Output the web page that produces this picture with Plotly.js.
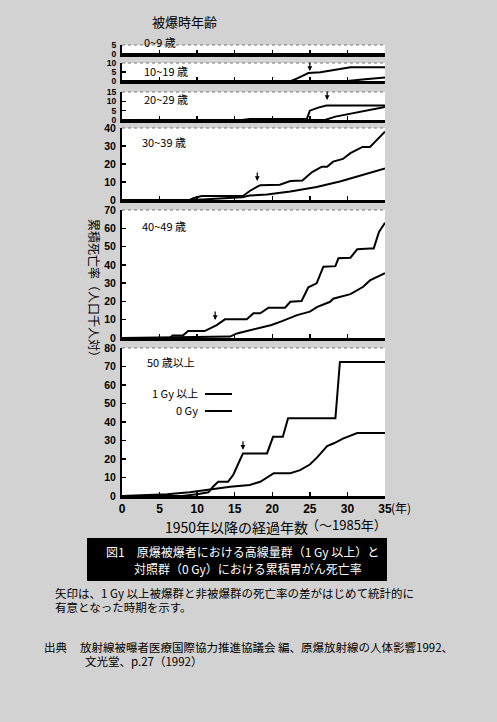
<!DOCTYPE html>
<html>
<head>
<meta charset="utf-8">
<script src="https://cdn.plot.ly/plotly-3.0.1.min.js"></script>
<style>
html,body{margin:0;padding:0;background:#d2d2d2;}
#chart{width:497px;height:722px;}
</style>
</head>
<body>
<div id="chart"></div>
<script>
// ---------------- DATA ----------------
const panelLabels = ["0~9 歳", "10~19 歳", "20~29 歳", "30~39 歳", "40~49 歳", "50 歳以上"];
const panelMax = [5, 10, 15, 40, 70, 80];
const panelTick = [5, 5, 5, 10, 10, 10];
const xTicks = [0, 5, 10, 15, 20, 25, 30, 35];

// 1 Gy 以上 (high dose)
const p1_high_x = [0, 35];
const p1_high_y = [0, 0];
const p2_high_x = [0, 22.5, 23.4, 24.8, 26.4, 28.1, 29, 30.4, 35];
const p2_high_y = [0, 0, 1.6, 4.4, 4.9, 6, 7, 7.6, 7.6];
const p3_high_x = [0, 16, 17, 24.6, 25, 26, 27.2, 35];
const p3_high_y = [0, 0, 0.6, 0.6, 5, 6.5, 7.8, 7.8];
const p4_high_x = [0, 9, 9.5, 10.6, 16.1, 17, 18, 18.4, 21, 22.4, 24, 25.3, 26.6, 27.3, 28.1, 29.4, 30.4, 31.3, 32, 33, 33.6, 34.3, 35];
const p4_high_y = [0, 0, 1, 2.2, 2.2, 5, 7.4, 8.2, 8.5, 10.5, 10.8, 15.5, 18.5, 18.5, 21.3, 22.8, 26, 27.8, 29.5, 29.5, 32, 35, 38];
const p5_high_x = [0, 6.4, 6.7, 8.1, 8.8, 11, 12.6, 13.7, 16.6, 17.5, 18.4, 19.5, 21.7, 22.4, 23.9, 24.8, 25.9, 26.8, 28.4, 28.8, 30.4, 31.3, 33, 33.5, 34.2, 35];
const p5_high_y = [0, 0, 1.3, 1.3, 3.8, 3.8, 7.1, 10.2, 10.2, 13.5, 13.5, 16.6, 16.6, 19.8, 20.2, 27.7, 29.9, 39, 39.3, 43.6, 43.9, 48.5, 49, 49, 58, 63];
const p6_high_x = [0, 8, 10, 11.5, 12.1, 12.8, 14.1, 14.8, 15.5, 16.1, 19.3, 20.1, 21.4, 22.1, 28.4, 29, 35];
const p6_high_y = [0, 0, 1, 2, 5, 7.7, 7.7, 11.4, 17.7, 23, 23, 32, 32, 42, 42, 72.5, 72.5];

// 0 Gy (control)
const p1_low_x = [0, 35];
const p1_low_y = [0, 0];
const p2_low_x = [0, 30, 32, 35];
const p2_low_y = [0, 0, 0.8, 2];
const p3_low_x = [0, 27, 28.4, 30.5, 33, 35];
const p3_low_y = [0, 0, 1.8, 3.5, 5.3, 7];
const p4_low_x = [0, 9.5, 13, 16, 17, 19.3, 22.4, 25.9, 29, 31.3, 33, 35];
const p4_low_y = [0, 0, 0.8, 1.5, 2.5, 3, 4.7, 7.2, 10.3, 13, 15.1, 17.5];
const p5_low_x = [0, 10, 14.4, 15.3, 17.9, 19.9, 21.3, 23.3, 25, 26, 27.7, 28.1, 30.4, 32.1, 33, 35];
const p5_low_y = [0, 0.3, 0.8, 2.5, 5, 7.1, 9.2, 12.5, 14.4, 17, 19.8, 21.5, 24, 28, 31.5, 35.5];
const p6_low_x = [0, 3, 6, 9, 11.7, 14.4, 17, 18.4, 20.2, 22.4, 23.7, 25, 26, 27.3, 28.2, 29.4, 31.3, 35];
const p6_low_y = [0, 0.3, 1, 2, 3.5, 5, 6, 7.7, 12.3, 12.3, 14, 17, 21, 27, 28.5, 31, 34, 34];

// arrows: time when the difference first became significant (panels 2-6)
const arrowPanel = [1, 2, 3, 4, 5];
const arrowYear = [25, 27.3, 18, 12.4, 16.1];
const arrowVal = [5.5, 10.7, 10.5, 9.8, 25];

const highX = [p1_high_x, p2_high_x, p3_high_x, p4_high_x, p5_high_x, p6_high_x];
const highY = [p1_high_y, p2_high_y, p3_high_y, p4_high_y, p5_high_y, p6_high_y];
const lowX = [p1_low_x, p2_low_x, p3_low_x, p4_low_x, p5_low_x, p6_low_x];
const lowY = [p1_low_y, p2_low_y, p3_low_y, p4_low_y, p5_low_y, p6_low_y];

// ---------------- LAYOUT ----------------
const W = 497, H = 722, ML = 122, MR = 112, MT = 45, MB = 226;
const plotW = W - ML - MR, plotH = H - MT - MB;
const bottomPx = H - MB;
const panelPx = [[45, 54], [63, 81], [92, 120], [128, 200], [210, 338], [348, 496]];
const px2x = p => (p - ML) / plotW;
const py2y = p => (bottomPx - p) / plotH;

const JP = "Noto Sans CJK JP";
const traces = [];
const layout = {
  width: W, height: H,
  margin: {l: ML, r: MR, t: MT, b: MB},
  paper_bgcolor: "#d2d2d2",
  plot_bgcolor: "#ffffff",
  showlegend: false,
  font: {family: JP, color: "#000"},
  shapes: [], annotations: []
};

for (let k = 0; k < 6; k++) {
  const s = k === 0 ? "" : String(k + 1);
  const xa = "x" + s, ya = "y" + s;
  traces.push({x: lowX[k], y: lowY[k], xaxis: xa, yaxis: ya, mode: "lines",
    line: {color: "#000", width: 2}, name: "0 Gy", hoverinfo: "skip"});
  traces.push({x: highX[k], y: highY[k], xaxis: xa, yaxis: ya, mode: "lines",
    line: {color: "#000", width: 2}, name: "1 Gy 以上", hoverinfo: "skip"});
  const isBottom = k === 5;
  layout["xaxis" + s] = {
    anchor: ya, range: [0, 35], tickvals: xTicks, showline: true, linewidth: 2.5,
    linecolor: "#000", ticks: "inside", ticklen: 4, tickwidth: 1.3, tickcolor: "#000",
    showgrid: false, zeroline: false, showticklabels: isBottom,
    tickfont: {family: "Liberation Sans", size: 12, weight: "bold"},
    ...(isBottom ? {} : {matches: "x6"})
  };
  const [top, bot] = panelPx[k];
  layout["yaxis" + s] = {
    anchor: xa, domain: [py2y(bot), py2y(top)], range: [0, panelMax[k]],
    dtick: panelTick[k], showline: true, linewidth: 2, linecolor: "#000",
    ticks: "inside", ticklen: 4, tickwidth: 1.3, tickcolor: "#000",
    showgrid: false, zeroline: false, ticklabelstandoff: 2,
    tickfont: {family: "Liberation Sans", size: k < 3 ? 8.5 : 10.5, weight: "bold"}
  };
  // thin top frame line
  layout.shapes.push({type: "line", xref: "paper", x0: 0, x1: 1,
    yref: ya + " domain", y0: 1, y1: 1, line: {color: "#777", width: 1, dash: "dot"}});
}

// panel labels
const labelPos = [[142, 42], [142, 71], [142, 99], [140, 142], [140, 226], [145, 362]];
panelLabels.forEach((t, k) => {
  layout.annotations.push({xref: "paper", yref: "paper", x: px2x(labelPos[k][0]), y: py2y(labelPos[k][1]),
    xanchor: "left", yanchor: "middle", showarrow: false, text: t,
    font: {family: JP, size: 11, color: "#000"}});
});

// arrows
arrowPanel.forEach((k, i) => {
  const s = k === 0 ? "" : String(k + 1);
  layout.annotations.push({xref: "x" + s, yref: "y" + s, x: arrowYear[i], y: arrowVal[i],
    text: "", showarrow: true, ax: 0, ay: -10, arrowhead: 2, arrowsize: 0.8,
    arrowwidth: 1.2, arrowcolor: "#000"});
});

// legend inside bottom panel
const legendRows = [["1 Gy 以上", 393], ["0 Gy", 410]];
legendRows.forEach(([t, py]) => {
  layout.annotations.push({xref: "paper", yref: "paper", x: px2x(200), y: py2y(py),
    xanchor: "right", yanchor: "middle", showarrow: false, text: t,
    font: {family: JP, size: 11, color: "#000"}});
  layout.shapes.push({type: "line", xref: "paper", yref: "paper",
    x0: px2x(205), x1: px2x(232), y0: py2y(py + 1), y1: py2y(py + 1),
    line: {color: "#000", width: 2}});
});

// general texts
const textItems = [
  ["被爆時年齢", 150, 22, "left", 13, "#000"],
  ["1950年以降の経過年数", 236, 527, "center", 14, "#000"],
  ["（〜1985年）", 346, 524, "center", 13, "#000"],
  ["(年)", 389, 507, "left", 12, "#000"],
  ["図1　原爆被爆者における高線量群（1 Gy 以上）と", 104, 551, "left", 12, "#fff"],
  ["対照群（0 Gy）における累積胃がん死亡率", 132, 568, "left", 12, "#fff"],
  ["矢印は、1 Gy 以上被爆群と非被爆群の死亡率の差がはじめて統計的に", 53, 593, "left", 11.5, "#000"],
  ["有意となった時期を示す。", 53, 607, "left", 11.5, "#000"],
  ["出典", 42, 647, "left", 11.5, "#000"],
  ["放射線被曝者医療国際協力推進協議会 編、原爆放射線の人体影響1992、", 78, 647, "left", 11.5, "#000"],
  ["文光堂、p.27（1992）", 83, 661, "left", 11.5, "#000"]
];
// black caption band
layout.shapes.push({type: "rect", xref: "paper", yref: "paper", layer: "above",
  x0: px2x(87), x1: px2x(387), y0: py2y(581), y1: py2y(538),
  fillcolor: "#000", line: {width: 0}});
textItems.forEach(([t, x, y, anc, size, col]) => {
  layout.annotations.push({xref: "paper", yref: "paper", x: px2x(x), y: py2y(y),
    xanchor: anc, yanchor: "middle", showarrow: false, text: t,
    font: {family: JP, size: size, color: col}});
});
// y-axis title
layout.annotations.push({xref: "paper", yref: "paper", x: px2x(95), y: py2y(291),
  xanchor: "center", yanchor: "middle", showarrow: false, textangle: 90,
  text: "累積死亡率（人口千人対）", font: {family: JP, size: 12, color: "#000"}});

Plotly.newPlot("chart", traces, layout, {staticPlot: true, displayModeBar: false});
</script>
</body>
</html>
